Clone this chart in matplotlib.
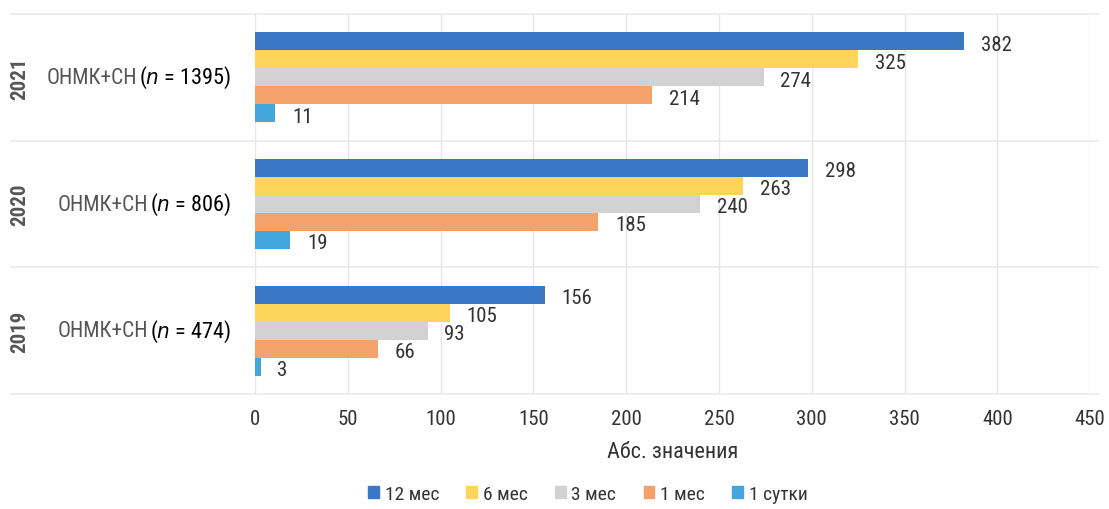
import matplotlib.pyplot as plt
from matplotlib.lines import Line2D
import numpy as np

plt.rcParams['font.family'] = ['Roboto Condensed', 'Liberation Sans Narrow', 'DejaVu Sans']
plt.rcParams['font.stretch'] = 'condensed'

years = ['2019', '2020', '2021']
n_cases = [474, 806, 1395]
series = ['12 мес', '6 мес', '3 мес', '1 мес', '1 сутки']
values = {
    '12 мес': [156, 298, 382],
    '6 мес': [105, 263, 325],
    '3 мес': [93, 240, 274],
    '1 мес': [66, 185, 214],
    '1 сутки': [3, 19, 11],
}
colors = ['#3a78c4', '#fdd55a', '#d2d2d2', '#f4a26c', '#45a6dd']

fig = plt.figure(figsize=(11.09, 5.10), dpi=100)
ax = fig.add_axes([0.230, 0.2255, 0.753, 0.745])

bh = 0.142
ypos = np.arange(len(years)) + 0.5
for i, (s, c) in enumerate(zip(series, colors)):
    y = ypos + (2 - i) * bh
    v = values[s]
    ax.barh(y, v, height=bh, color=c, zorder=3)
    for yy, vv in zip(y, v):
        ax.annotate(str(vv), (vv, yy), xytext=(12, -2), textcoords='offset points',
                    va='center', ha='left', fontsize=15, color='#333333')

ax.set_xlim(0, 450)
ax.set_ylim(0, 3)
ax.set_xticks(np.arange(0, 451, 50))
ax.set_yticks([])
ax.tick_params(axis='x', length=0, labelsize=15, labelcolor='#333333', pad=11)
ax.grid(axis='x', color='#e6e6e6', lw=1, zorder=0)
for sp in ax.spines.values():
    sp.set_visible(False)
ax.set_xlabel('Абс. значения', fontsize=16, color='#333333', labelpad=9)

# group separators running across the whole width
for k in range(4):
    yf = 0.2255 + 0.745 * k / 3
    fig.add_artist(Line2D([0.01, 0.99], [yf, yf], color='#eaeaea', lw=1.2))

# category labels
fig.canvas.draw()
r = fig.canvas.get_renderer()
for yy, yr, n in zip(ypos, years, n_cases):
    t = ax.annotate(f'($n$ = {n})', (0, yy), xytext=(-17, 0), textcoords='offset points',
                    ha='right', va='center', fontsize=16, color='black')
    bb = t.get_window_extent(r)
    xl, _ = fig.transFigure.inverted().transform((bb.x0, 0))
    _, yf = fig.transFigure.inverted().transform(ax.transData.transform((0, yy)))
    fig.text(xl - 0.002, yf, 'ОНМК+СН', ha='right', va='center', fontsize=15.5, color='#555555')
    fig.text(0.018, yf, yr, rotation=90, ha='center', va='center', fontsize=15,
             color='#555555', fontweight='bold')

handles = [plt.Rectangle((0, 0), 1, 1, color=c) for c in colors]
fig.legend(handles, series, loc='center', bbox_to_anchor=(0.53, 0.03), ncol=5,
           frameon=False, fontsize=14, handlelength=0.55, handleheight=0.55,
           handletextpad=0.3, columnspacing=1.4, labelcolor='#333333')

fig.savefig('out.png', dpi=100)
